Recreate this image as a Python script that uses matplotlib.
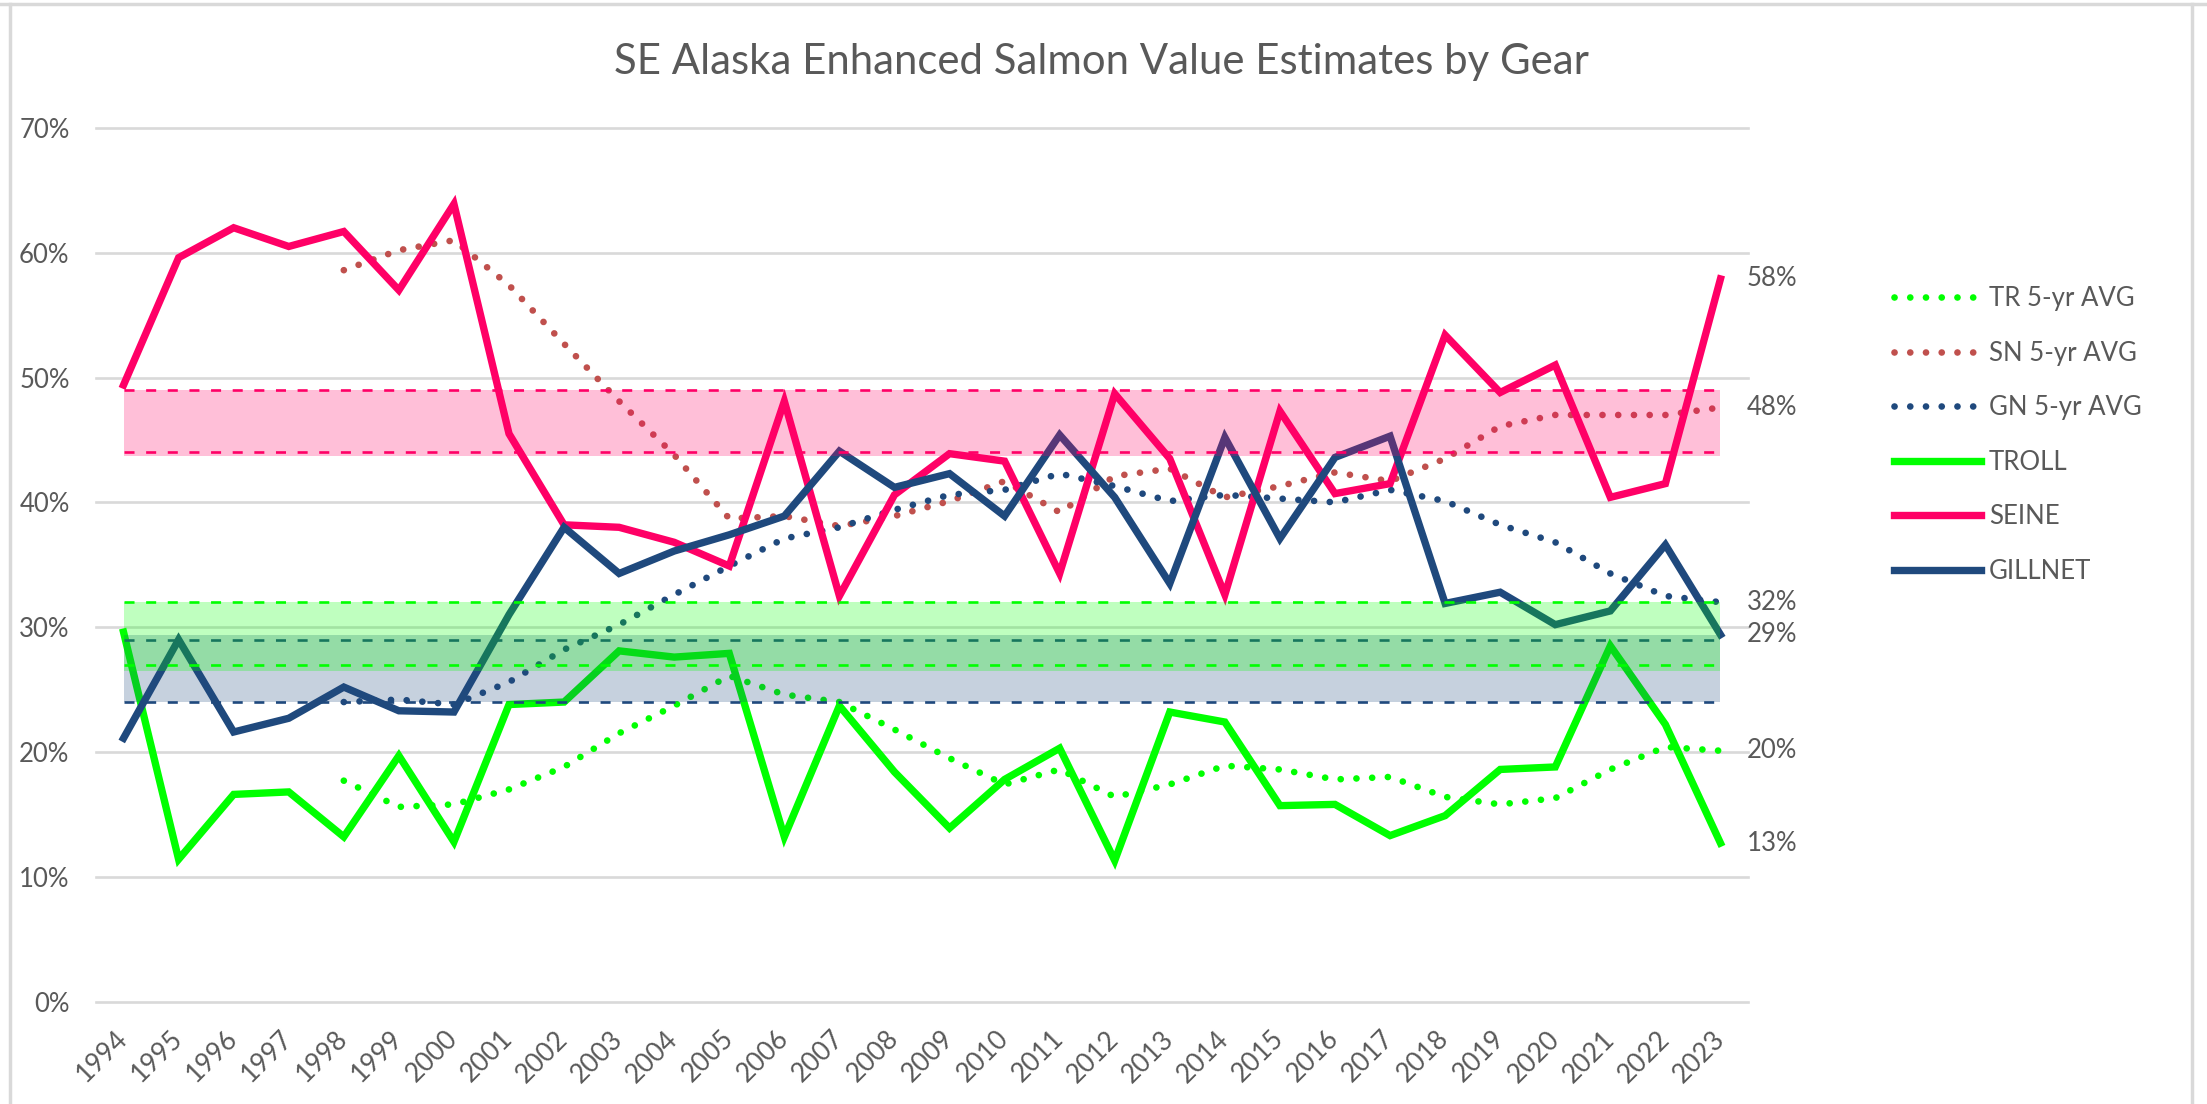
import numpy as np
import matplotlib
matplotlib.use("Agg")
import matplotlib.pyplot as plt
from matplotlib.ticker import PercentFormatter
from matplotlib.lines import Line2D

plt.rcParams['font.family'] = ['Lato', 'DejaVu Sans']

# data (percent of value)
years = [str(y) for y in range(1994, 2024)]
seine = [49.4, 59.6, 62.0, 60.5, 61.7, 57.0, 63.9, 45.5, 38.2, 38.0, 36.8, 34.9, 48.1, 32.5, 40.6,
         43.9, 43.3, 34.3, 48.7, 43.5, 32.6, 47.3, 40.7, 41.5, 53.4, 48.8, 51.0, 40.4, 41.5, 57.9]
gillnet = [21.1, 29.0, 21.6, 22.7, 25.2, 23.3, 23.2, 31.0, 38.0, 34.3, 36.1, 37.4, 38.9, 44.1, 41.2,
           42.3, 38.9, 45.4, 40.4, 33.5, 45.2, 37.1, 43.6, 45.3, 31.9, 32.8, 30.2, 31.3, 36.6, 29.4]
troll = [29.6, 11.4, 16.6, 16.8, 13.2, 19.7, 12.8, 23.8, 24.0, 28.1, 27.6, 27.9, 13.2, 23.7, 18.4,
         13.9, 17.8, 20.3, 11.3, 23.2, 22.4, 15.7, 15.8, 13.3, 14.9, 18.6, 18.8, 28.5, 22.2, 12.7]
# 5-yr averages start in 1998
tr_avg = [17.7, 15.6, 15.8, 17.0, 18.8, 21.5, 23.7, 26.1, 24.6, 24.0, 21.8, 19.5, 17.4,
          18.6, 16.4, 17.4, 18.9, 18.6, 17.8, 18.0, 16.4, 15.8, 16.3, 18.6, 20.4, 20.1]
sn_avg = [58.6, 60.2, 61.0, 57.4, 52.7, 48.1, 43.8, 38.7, 38.9, 38.1, 38.9, 40.1, 41.7,
          39.2, 42.1, 42.7, 40.4, 41.3, 42.4, 41.7, 43.5, 46.1, 47.0, 47.0, 47.0, 47.6]
gn_avg = [24.0, 24.2, 23.8, 25.6, 28.2, 30.2, 32.6, 34.9, 37.1, 38.0, 39.4, 40.6, 41.0,
          42.3, 41.3, 40.1, 40.6, 40.3, 40.0, 41.0, 40.1, 38.2, 36.8, 34.3, 32.5, 32.0]
avg_start = 4

# target ranges (dashed limits) and shaded extents
sn_band = [44.0, 49.0]
tr_band = [27.0, 32.0]
gn_band = [24.0, 29.0]
sn_fill = [43.7, 49.0]
tr_fill = [26.5, 32.0]
gn_fill = [24.0, 29.4]

PINK = '#FF0066'
GREEN = '#00FF00'
NAVY = '#1F497D'
BROWN = '#C0504D'
GRID = '#D9D9D9'
TXT = '#595959'

W, H = 2207, 1104
fig = plt.figure(figsize=(W / 100, H / 100), dpi=100)
ax = fig.add_axes([96 / W, (H - 1001.6) / H, (1748 - 96) / W, (1001.6 - 127.9) / H])

x = np.arange(len(years))
xa = x[avg_start:]
pct = lambda v: np.array(v) / 100.0

dot = (0, (0.01, 2.35))
solid_lw = 5.3
dot_lw = 4.8

ax.plot(xa, pct(tr_avg), color=GREEN, lw=dot_lw, ls=dot, dash_capstyle='round', label='TR 5-yr AVG', zorder=2)
ax.plot(xa, pct(sn_avg), color=BROWN, lw=dot_lw, ls=dot, dash_capstyle='round', label='SN 5-yr AVG', zorder=2)
ax.plot(xa, pct(gn_avg), color=NAVY, lw=dot_lw, ls=dot, dash_capstyle='round', label='GN 5-yr AVG', zorder=2)
ax.plot(x, pct(troll), color=GREEN, lw=solid_lw, solid_joinstyle='miter', label='TROLL', zorder=2)
ax.plot(x, pct(seine), color=PINK, lw=solid_lw, solid_joinstyle='miter', label='SEINE', zorder=2)
ax.plot(x, pct(gillnet), color=NAVY, lw=solid_lw, solid_joinstyle='miter', label='GILLNET', zorder=2)

# shaded target bands sit on top of the lines, semi transparent
dash = (0, (3.8, 4.4))
for band, fill, col, z in [(gn_band, gn_fill, NAVY, 3), (tr_band, tr_fill, GREEN, 4), (sn_band, sn_fill, PINK, 5)]:
    ax.fill_between([x[0], x[-1]], fill[0] / 100, fill[1] / 100, color=col, alpha=0.25, lw=0, zorder=z)
    for v in band:
        ax.plot([x[0], x[-1]], [v / 100, v / 100], color=col, lw=1.9, ls=dash, zorder=z)

# end-of-series labels
for vals in [seine, sn_avg, gn_avg, gillnet, tr_avg, troll]:
    ax.annotate(f"{vals[-1] / 100:.0%}", (x[-1], vals[-1] / 100), xytext=(19, 0),
                textcoords='offset points', ha='left', va='center', fontsize=18.5, color=TXT)

ax.set_xlim(-0.5, len(years) - 0.5)
ax.set_ylim(0, 0.70)
ax.set_yticks(np.arange(0, 0.71, 0.10))
ax.yaxis.set_major_formatter(PercentFormatter(1.0, decimals=0))
ax.set_xticks(x)
ax.set_xticklabels(years)
ax.tick_params(axis='y', length=0, pad=19, labelsize=18.5, labelcolor=TXT)
ax.tick_params(axis='x', length=0, pad=24, labelsize=19, labelcolor=TXT)
plt.setp(ax.get_xticklabels(), rotation=45, ha='right', va='center', rotation_mode='anchor')
for s in ax.spines.values():
    s.set_visible(False)
ax.set_axisbelow(True)
ax.yaxis.grid(True, color=GRID, lw=1.9)
for gl in ax.get_ygridlines():
    gl.set_clip_on(False)

fig.text(0.499, 0.944, 'SE Alaska Enhanced Salmon Value Estimates by Gear', ha='center', va='center',
         fontsize=30.2, color=TXT)

fig.legend(loc='center left', bbox_to_anchor=(1894 / W, 1 - 435 / H), frameon=False, fontsize=18.5,
           labelcolor=TXT, handlelength=3.4, handletextpad=0.3, labelspacing=1.15,
           borderpad=0, borderaxespad=0)

# chart area border
for xs, ys in [([0, 1], [1 - 4 / H, 1 - 4 / H]), ([10 / W, 10 / W], [0, 1 - 4 / H]),
               ([2192 / W, 2192 / W], [0, 1 - 4 / H])]:
    fig.add_artist(Line2D(xs, ys, color=GRID, lw=2.5, transform=fig.transFigure))

fig.savefig('out.png', dpi=100, facecolor='white')
